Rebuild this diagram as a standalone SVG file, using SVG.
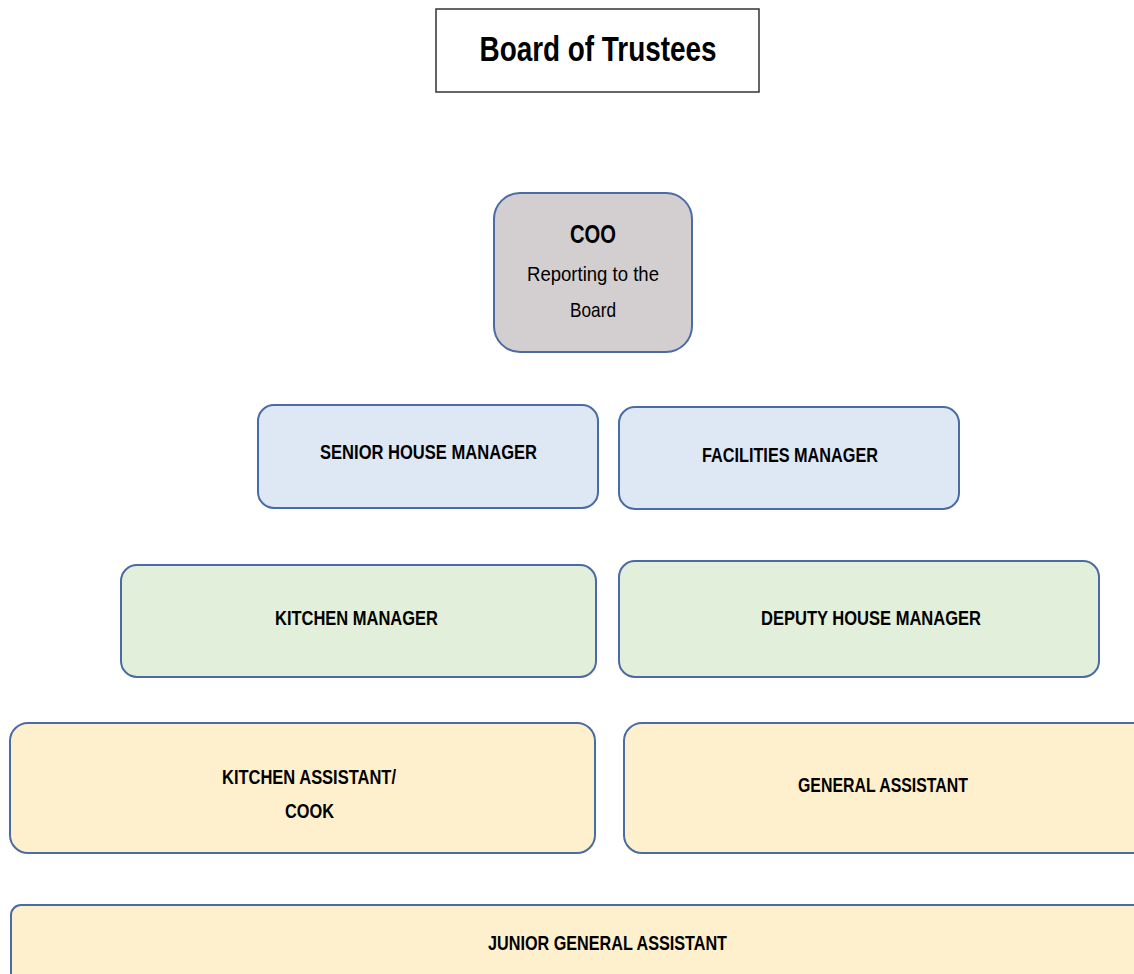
<svg xmlns="http://www.w3.org/2000/svg" width="1134" height="974" viewBox="0 0 1134 974">
<style>
.box{stroke:#4a6ba3;stroke-width:2}
.t{font-family:"Liberation Sans","Open Sans",sans-serif;font-weight:bold;fill:#000;text-anchor:middle}
.n{font-family:"Liberation Sans","Open Sans",sans-serif;fill:#000;text-anchor:middle}
.blue{fill:#dee8f5}
.green{fill:#e2efda}
.yellow{fill:#fff0cd}
</style>
<rect width="1134" height="974" fill="#fff"/>
<g id="connectors"></g>
<g id="board">
<rect x="436" y="9" width="323" height="83" fill="#fff" stroke="#333" stroke-width="1.5"/>
<text class="t" x="598" y="61" font-size="35" textLength="237" lengthAdjust="spacingAndGlyphs">Board of Trustees</text>
</g>
<g id="coo">
<rect class="box" x="494" y="193" width="198" height="159" rx="26" fill="#d3cfd0"/>
<text class="t" x="593" y="243" font-size="26" textLength="46" lengthAdjust="spacingAndGlyphs">COO</text>
<text class="n" x="593" y="281" font-size="21" textLength="132" lengthAdjust="spacingAndGlyphs">Reporting to the</text>
<text class="n" x="593" y="317" font-size="21" textLength="46" lengthAdjust="spacingAndGlyphs">Board</text>
</g>
<g id="senior-house-manager">
<rect class="box blue" x="258" y="405" width="340" height="103" rx="16"/>
<text class="t" x="428.5" y="459" font-size="20" textLength="217" lengthAdjust="spacingAndGlyphs">SENIOR HOUSE MANAGER</text>
</g>
<g id="facilities-manager">
<rect class="box blue" x="619" y="407" width="340" height="102" rx="16"/>
<text class="t" x="790" y="462" font-size="20" textLength="176" lengthAdjust="spacingAndGlyphs">FACILITIES MANAGER</text>
</g>
<g id="kitchen-manager">
<rect class="box green" x="121" y="565" width="475" height="112" rx="16"/>
<text class="t" x="356.5" y="625" font-size="20" textLength="163" lengthAdjust="spacingAndGlyphs">KITCHEN MANAGER</text>
</g>
<g id="deputy-house-manager">
<rect class="box green" x="619" y="561" width="480" height="116" rx="16"/>
<text class="t" x="871" y="625" font-size="20" textLength="220" lengthAdjust="spacingAndGlyphs">DEPUTY HOUSE MANAGER</text>
</g>
<g id="kitchen-assistant">
<rect class="box yellow" x="10" y="723" width="585" height="130" rx="18"/>
<text class="t" x="309" y="784" font-size="20" textLength="174" lengthAdjust="spacingAndGlyphs">KITCHEN ASSISTANT/</text>
<text class="t" x="309.5" y="818" font-size="20" textLength="49" lengthAdjust="spacingAndGlyphs">COOK</text>
</g>
<g id="general-assistant">
<rect class="box yellow" x="624" y="723" width="530" height="130" rx="18"/>
<text class="t" x="883" y="792" font-size="20" textLength="170" lengthAdjust="spacingAndGlyphs">GENERAL ASSISTANT</text>
</g>
<g id="junior-general-assistant">
<rect class="box yellow" x="11" y="905" width="1150" height="100" rx="10"/>
<text class="t" x="607.5" y="950" font-size="20" textLength="239" lengthAdjust="spacingAndGlyphs">JUNIOR GENERAL ASSISTANT</text>
</g>
</svg>
